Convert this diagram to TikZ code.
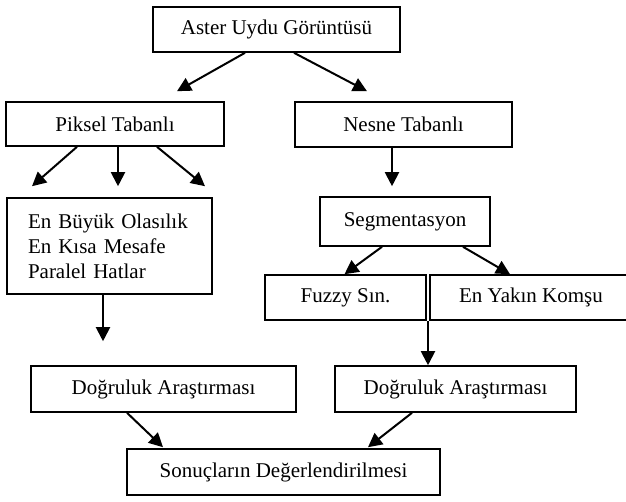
\documentclass[tikz,border=0pt]{standalone}
\usepackage{fontspec}
\setmainfont{Liberation Serif}
\usetikzlibrary{arrows.meta,calc}
\begin{document}
\begin{tikzpicture}[x=1pt,y=-1pt,
  box/.style={draw,line width=1.6pt,rectangle,inner sep=0pt,
    font=\fontsize{21}{25}\selectfont},
  arr/.style={line width=2pt,-{Triangle[length=14pt,width=14pt]}}]
\clip (0,0) rectangle (626,501);
% nodes
\node[box,minimum width=247pt,minimum height=45pt] (aster) at (276.5,29.5) {Aster Uydu Görüntüsü};
\node[box,minimum width=218pt,minimum height=44pt] (piksel) at (115,124) {Piksel Tabanlı};
\node[box,minimum width=217pt,minimum height=45pt] (nesne) at (403.5,124.5) {Nesne Tabanlı};
\node[box,minimum height=96pt,text width=163pt,inner xsep=21pt,align=left] (enbuyuk) at (109.5,246)
  {En Büyük Olasılık\\En Kısa Mesafe\\Paralel Hatlar};
\node[box,minimum width=170pt,minimum height=49pt] (segment) at (405,221.5) {Segmentasyon};
\node[box,minimum width=161pt,minimum height=45pt] (fuzzy) at (345.5,297.5) {Fuzzy Sın.};
\node[box,minimum width=202pt,minimum height=45pt] (yakin) at (531,297.5) {En Yakın Komşu};
\node[box,minimum width=265pt,minimum height=46pt] (dogL) at (163.5,389) {Doğruluk Araştırması};
\node[box,minimum width=241pt,minimum height=46pt] (dogR) at (455.5,389) {Doğruluk Araştırması};
\node[box,minimum width=313pt,minimum height=46pt] (sonuc) at (283.5,472) {Sonuçların Değerlendirilmesi};
\coordinate (split) at ($(fuzzy.south east)!0.5!(yakin.south west)$);
% connectors
\draw[arr] ($(aster.south)+(-31.5,0)$) -- ($(piksel.north)+(62,-10)$);
\draw[arr] ($(aster.south)+(17.5,0)$) -- ($(nesne.north)+(-36.5,-10)$);
\draw[arr] ($(piksel.south)+(-38,0)$) -- ($(enbuyuk.north)+(-77.5,-11)$);
\draw[arr] ($(piksel.south)+(3,0)$) -- ($(enbuyuk.north)+(8.5,-11)$);
\draw[arr] ($(piksel.south)+(42,0)$) -- ($(enbuyuk.north)+(95.5,-11)$);
\draw[arr] ($(nesne.south)+(-11.5,0)$) -- ($(segment.north)+(-13,-10)$);
\draw[arr] ($(enbuyuk.south)+(-6.5,0)$) -- ($(dogL.north)+(-60.5,-24)$);
\draw[arr] ($(segment.south)+(-23,0)$) -- ($(fuzzy.north)+(-1,0)$);
\draw[arr] ($(segment.south)+(58,0)$) -- ($(yakin.north)+(-21,0)$);
\draw[arr] (split) -- (split |- dogR.north);
\draw[arr] ($(dogL.south)+(-36.5,0)$) -- ($(sonuc.north)+(-120.5,-1)$);
\draw[arr] ($(dogR.south)+(-43.5,0)$) -- ($(sonuc.north)+(84.5,-1)$);
\end{tikzpicture}
\end{document}
